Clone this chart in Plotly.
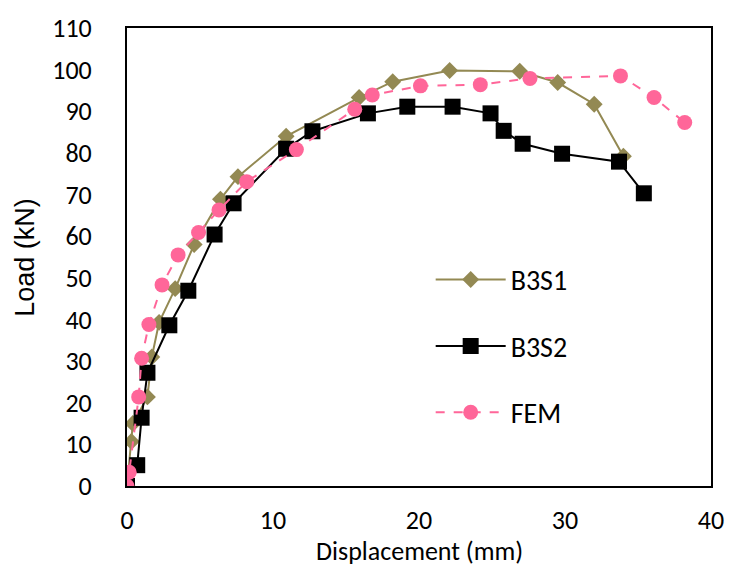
import plotly.graph_objects as go

# B3S1 (experimental)
b3s1_x = [0, 0.3, 0.4, 1.4, 1.7, 2.2, 3.3, 4.6, 6.4, 7.6, 10.9, 15.9, 18.2, 22.1, 26.9, 29.5, 32.0, 34.0]
b3s1_y = [0, 10.7, 15.0, 21.4, 31.0, 39.3, 47.4, 58.0, 68.9, 74.3, 84.0, 93.3, 97.1, 99.8, 99.6, 96.9, 91.7, 79.2]

# B3S2 (experimental)
b3s2_x = [0, 0.7, 1.0, 1.4, 2.9, 4.2, 6.0, 7.3, 10.9, 12.7, 16.5, 19.2, 22.3, 24.9, 25.8, 27.1, 29.8, 33.7, 35.4]
b3s2_y = [0, 5.0, 16.4, 27.2, 38.6, 46.9, 60.4, 67.9, 81.0, 85.2, 89.5, 91.1, 91.1, 89.5, 85.3, 82.2, 79.8, 77.9, 70.3]

# FEM
fem_x = [0, 0.15, 0.8, 1.0, 1.5, 2.4, 3.5, 4.9, 6.3, 8.2, 11.6, 15.6, 16.8, 20.1, 24.2, 27.6, 33.8, 36.1, 38.2]
fem_y = [0, 3.3, 21.4, 30.7, 38.8, 48.3, 55.5, 60.9, 66.3, 73.1, 80.8, 90.5, 93.9, 96.1, 96.4, 97.9, 98.5, 93.3, 87.3]

x_ticks = [0, 10, 20, 30, 40]
y_ticks = list(range(0, 111, 10))

FONT = "Carlito, Lato, 'Liberation Sans', sans-serif"
ARIAL = "'Liberation Sans', Arial, sans-serif"

fig = go.Figure()
fig.add_trace(go.Scatter(x=b3s1_x, y=b3s1_y, name="B3S1", mode="lines+markers", legendgroup="g1",
                         line=dict(color="#938953", width=2),
                         marker=dict(symbol="diamond", size=13, color="#938953")))
fig.add_trace(go.Scatter(x=b3s2_x, y=b3s2_y, name="B3S2", mode="lines+markers", legendgroup="g2",
                         line=dict(color="#000000", width=2),
                         marker=dict(symbol="square", size=16, color="#000000")))
fig.add_trace(go.Scatter(x=fem_x, y=fem_y, name="FEM", mode="lines+markers", legendgroup="g3",
                         line=dict(color="#FF6699", width=2, dash="dash"),
                         marker=dict(symbol="circle", size=15, color="#FF6699")))

fig.update_layout(
    width=736, height=570,
    margin=dict(l=127, r=20, t=24, b=84),
    paper_bgcolor="white", plot_bgcolor="white",
    font=dict(family=FONT, size=26, color="black"),
    legend=dict(x=0.52, y=0.305, xanchor="left", yanchor="middle",
                font=dict(size=28), tracegroupgap=27, itemwidth=70,
                bgcolor="rgba(0,0,0,0)"),
    xaxis=dict(range=[0, 40], tickvals=x_ticks, showgrid=False, zeroline=False,
               showline=True, linecolor="black", linewidth=2, mirror=True,
               ticks="", ticklabelstandoff=10),
    yaxis=dict(range=[0, 110], tickvals=y_ticks, showgrid=False, zeroline=False,
               showline=True, linecolor="black", linewidth=2, mirror=True,
               ticks="", ticklabelstandoff=28),
    annotations=[
        dict(text="Displacement (mm)", xref="paper", yref="paper", x=0.5, y=-0.143,
             xanchor="center", yanchor="middle", showarrow=False,
             font=dict(family=FONT, size=26)),
        dict(text="Load (kN)", xref="paper", yref="paper", x=-0.175, y=0.5,
             xanchor="center", yanchor="middle", showarrow=False, textangle=-90,
             font=dict(family=ARIAL, size=27)),
    ],
)
fig.write_html("out.html", config={"displayModeBar": False},
               post_script="document.body.style.margin='0';")
